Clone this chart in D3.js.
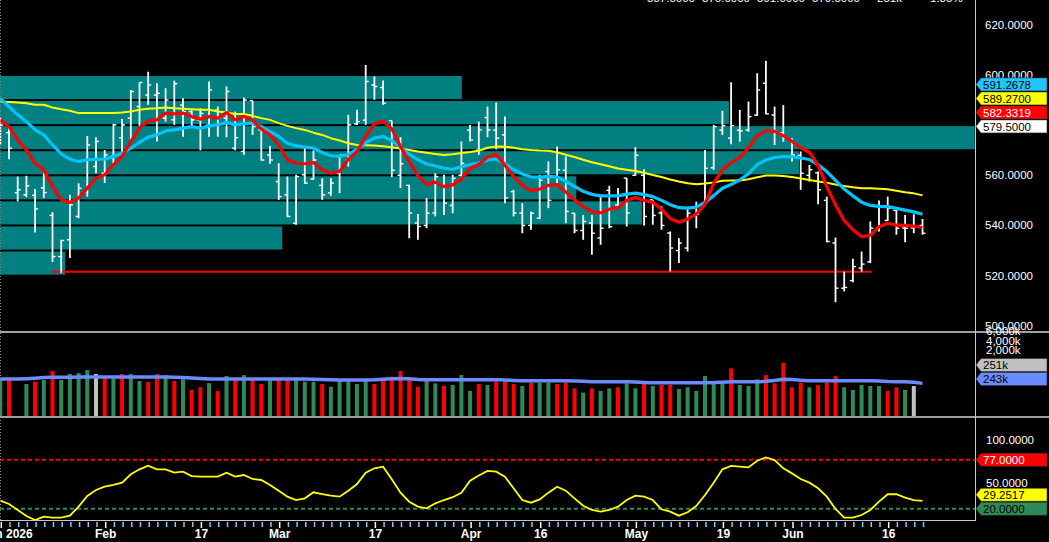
<!DOCTYPE html>
<html><head><meta charset="utf-8">
<script src="https://cdn.jsdelivr.net/npm/d3@7/dist/d3.min.js"></script>
<style>
html,body{margin:0;padding:0;background:#000;overflow:hidden;}
svg{display:block;}
text{font-family:"Liberation Sans",Arial,sans-serif;}
</style></head><body>
<svg id="c" width="1049" height="542"></svg>
<script>
// ---------- DATA ----------
const highs = [583,579.4,559.5,559.8,554.5,560.8,545.3,534.3,552.2,556.8,
575.7,575.2,570.1,580.5,582.4,594.0,597.0,601.3,596.7,594.7,
597.7,590.7,586.1,586.7,597.4,587.4,595.4,585.4,591.0,589.8,
580.1,571.7,564.8,559.5,560.2,571.7,569.9,558.8,558.8,568.1,
584.1,586.1,604.0,599.4,597.8,581.8,575.2,556.2,544.6,550.9,
560.8,560.2,560.2,573.5,580.1,581.4,587.4,589.0,583.4,554.2,
548.9,545.6,560.2,565.5,571.5,567.5,544.9,544.2,544.2,551.6,
555.8,554.9,558.9,571.2,562.4,550.2,547.6,537.6,534.9,547.0,
549.5,570.1,580.1,585.7,597.1,586.1,589.4,600.7,605.6,587.4,
588.0,574.8,569.5,564.1,561.5,551.5,535.2,521.6,526.7,529.6,
541.6,550.0,551.5,546.2,544.2,544.5,542.6];
const lows = [572,566.4,549.6,551.3,537.2,550.9,525.4,521.0,527.0,542.9,
551.5,560.8,556.9,563.5,567.5,573.5,579.7,588.1,573.5,581.4,
580.1,575.4,579.4,569.9,575.4,575.4,575.2,569.9,568.2,576.1,
565.9,564.6,550.2,543.3,540.3,556.6,558.2,550.2,551.8,552.9,
563.5,580.1,580.1,590.1,588.1,559.3,554.9,534.9,534.3,538.9,
543.6,544.2,544.9,559.5,573.5,568.2,575.2,570.4,548.9,543.6,
536.9,538.3,542.5,546.9,555.5,540.9,536.9,534.3,528.3,532.3,
538.9,547.6,539.6,559.8,540.0,540.3,538.3,521.7,525.0,529.6,
538.9,548.9,562.2,576.1,572.4,573.4,577.4,583.7,584.3,572.1,
573.4,565.5,554.2,557.5,548.5,533.3,509.4,513.7,517.4,521.6,
525.0,537.6,541.8,536.3,533.3,536.9,536.3];
const opens = [575,577,553.1,552.2,552,555,544,527.6,534.3,543.6,
553.5,563.5,560.8,567.5,575,582.8,587.4,592,592,582.8,
582.1,588,585.4,582,580,586,582.8,570.8,569.5,589.8,
578.1,568.1,557.5,552.2,540.9,560.2,558.5,556,553,560.8,
566,580.5,582,596,595,581.8,560,556,541,540,
545,556,548,560,578,570,583,578,576.1,553.5,
544.9,540,542.9,561.5,556,562,544.9,538,541,535,
554,548.2,558.9,560,560,550.2,545,537,530,531,
544,549,563,578,574.8,578,578,584,596.7,584,
577,574,568,560,561,550,533,515,518,523,
525.5,539,542,546,539,539,540];
const closes = [580,570.8,554.2,555.8,546.6,553.1,527.6,534,548.2,554.8,
572.1,573.5,568.1,580.1,580.1,593.4,597,596,592.7,590,
596.5,585.4,582.1,584.7,594.0,582.8,593.4,575,590,579.4,
566.1,566.1,551.5,543.6,559.5,556.9,566.1,552.2,556.9,568.1,
580.1,581.4,597.4,595.4,588.7,562,564.6,544.9,539.6,544.9,
559.5,548.9,558.8,564.8,574.1,578.1,578.1,574.8,551,545,
540,544.9,558,550,562.2,545.6,538,541.6,536.9,538.9,
539.5,552,545,568,543.6,544,540,531,533,544.9,
544.5,562.8,579.4,579.8,579.8,577.7,583.4,594,584.5,577.5,
575,568.1,560.8,562.2,554.2,533.6,515,515.3,523.6,524.6,
538.9,539.6,546.9,538.9,538.9,539.6,536.9];

const maFast = [582.1,579.4,574.1,570.1,564.8,562.2,555.5,550.2,549.2,550.9,
554.9,558.9,560.2,564.2,567.5,573.5,578.8,581.7,582.1,584.8,
584.5,584.8,583.4,582.4,583.4,582.8,585.0,582.1,583.4,582.1,
578.4,576.1,572.1,566.2,564.8,564.6,565.1,562.2,560.8,561.5,
566.4,569.5,575.5,580.5,581.6,578.5,571.5,565.5,559.8,556.5,
557.3,555.5,556.2,558.5,562.8,564.3,567.3,568.3,564.0,559.5,
556.0,553.9,554.5,556.0,556.3,553.3,550.3,547.5,545.5,545.0,
546.5,547.0,550.0,551.2,550.0,549.3,546.5,542.8,541.3,542.5,
544.5,548.5,556.8,562.2,565.0,567.2,571.0,575.7,577.8,577.5,
575.8,573.5,571.0,569.2,564.0,555.5,548.2,542.0,538.3,535.6,
536.0,539.5,540.9,540.1,540.0,539.7,539.2];
const maMid = [590.7,587.4,584.1,581.4,578.1,576.1,572.1,568.5,566.4,565.5,
566.2,566.4,566.4,567.5,568.8,570.8,573.1,575.2,576.1,577.7,
578.1,578.8,579.4,578.8,579.7,580.1,581.0,580.1,580.5,580.8,
579.4,577.4,575.5,572.8,571.7,571.2,570.8,569.1,567.8,567.5,
568.3,570.3,573.0,574.8,575.5,573.8,571.2,568.4,566.2,564.5,
563.7,562.8,562.4,563.4,564.3,564.9,566.1,566.5,564.7,562.2,
560.5,559.4,559.3,559.6,559.3,557.6,555.6,553.6,552.4,551.8,
551.8,551.8,552.5,552.9,552.3,551.5,550.0,548.3,547.1,546.9,
547.3,549.2,551.9,554.8,556.3,558.2,560.6,564.3,566.1,567.1,
567.5,567.4,566.9,566.3,564.2,561.5,558.0,554.5,551.8,549.3,
548.0,547.6,547.5,546.8,546.1,545.4,544.5];
const maSlow = [589.4,589.2,589.0,588.7,588.1,588.1,587.0,586.3,585.7,584.8,
584.8,584.8,584.8,584.8,585.0,585.4,586.1,586.5,586.7,587.0,
586.7,586.5,586.3,586.1,586.1,585.4,585.0,584.4,584.4,583.7,
582.8,582.1,580.8,579.7,578.8,578.1,577.0,576.1,574.8,573.9,
572.8,572.1,572.0,571.9,571.6,571.2,570.7,570.1,569.5,569.0,
568.5,568.1,568.4,568.9,569.3,569.8,571.0,571.5,571.4,571.0,
570.4,570.1,569.9,569.8,569.2,568.2,567.3,566.2,565.2,564.4,
563.6,562.7,562.2,561.7,561.0,560.1,559.3,558.3,557.5,556.8,
556.4,556.7,557.1,557.8,557.9,557.9,558.4,559.2,559.9,559.9,
559.7,559.3,558.7,558.1,557.5,557.0,556.3,555.7,555.2,554.8,
554.8,554.6,554.4,553.8,553.2,552.8,552.0];

// volume in thousands, colour code: g up, r down, s unchanged
const volumes = [247,254,0,211,226,237,294,237,275,281,
300,275,247,247,275,275,230,224,275,268,
230,241,173,190,217,166,262,241,268,237,
211,237,237,237,237,226,226,211,194,230,
237,211,237,211,237,258,294,237,194,237,
215,199,205,268,167,211,205,226,226,211,
198,220,220,220,211,220,183,156,183,167,
183,190,215,183,215,198,205,205,179,190,
167,262,215,215,311,205,198,241,268,215,
347,190,220,190,205,220,262,190,173,205,
198,198,167,190,173,198,4];
const volColors = [
"g","r","g","g","r","g","r","g","g","g",
"g","s","r","g","r","g","g","r","r","g",
"r","g","r","r","g","r","g","r","g","r",
"r","g","r","r","g","g","g","r","g","g",
"g","g","g","r","r","r","r","r","r","g",
"g","r","g","g","g","r","g","r","r","r",
"g","r","g","g","r","r","r","g","r","g",
"g","r","g","g","r","g","r","r","g","g",
"g","g","g","g","r","g","g","g","r","r",
"r","r","r","g","r","r","r","g","g","g",
"g","g","r","r","g","s","r"];
const volMA = [243,243,243,245,248,252,254,254,254,255,
255,255,255,256,256,256,256,256,255,255,
254,253,250,246,243,243,243,243,243,243,
243,243,243,243,243,243,242,240,238,237,
237,237,237,238,241,245,246,244,240,239,
239,239,239,239,239,239,239,239,237,234,
232,232,232,232,232,232,231,228,226,226,
226,226,226,224,221,219,219,219,219,219,
219,219,220,223,226,226,226,226,228,234,
241,240,235,232,232,232,232,232,232,232,
232,230,227,226,225,222,215];

const oscValues = [29.4,25.6,18.6,11.6,7.0,10.9,9.7,9.7,12.0,22.5,
34.9,41.9,45.7,47.7,50.4,60.1,65.9,70.2,65.9,65.9,
62.0,63.2,58.1,57.4,57.4,57.4,62.0,57.4,59.3,54.7,
53.5,47.7,41.1,34.1,30.2,32.2,39.2,37.2,35.3,34.1,
41.1,48.8,62.0,67.1,69.0,54.3,38.8,28.3,22.5,20.5,
26.4,30.2,33.5,38.5,52.7,58.7,64.0,63.2,57.4,43.8,
30.2,27.1,31.0,38.8,45.7,41.1,32.2,23.6,18.6,16.7,
18.6,22.5,30.2,35.3,34.1,30.2,19.4,16.7,12.0,15.9,
23.3,36.0,50.4,65.9,69.8,69.0,68.2,75.9,79.8,76.7,
67.1,61.2,54.7,50.4,43.8,34.1,19.8,9.7,9.7,12.8,
18.6,28.3,36.9,36.9,32.9,30.2,29.3];
const oscUpper = 77, oscLower = 20;

// supply/demand zones: lower bound, upper bound, last bar index covered
const zoneLow  = [590,580,570,560,550,540,530,520];
const zoneHigh = [600,590,580,570,560,550,540,530];
const zoneEnd  = [53.05,83.75,112,91.8,66.2,73.75,32.4,7.45];
const supportLevel = 521.5, supportFrom = 5.85, supportTo = 100.15;

const priceTicks = [620,600,580,560,540,520,500];
const volTickVals = [6000,4000,2000];
const volTickLabels = ["6,000k","4,000k","2,000k"];
const oscTicks = [100,50];

const dateTickIdx = [0,12,23,32,43,54,62,73,83,91,102];
const dateTickLbl = ["Jan 2026","Feb","17","Mar","17","Apr","16","May","19","Jun","16"];

const priceTagVals = [591.2678,589.2700,582.3319,579.5000];
const priceTagLbl = ["591.2678","589.2700","582.3319","579.5000"];
const volTagVals = [251,243];
const volTagLbl = ["251k","243k"];
const oscTagVals = [77,29.2517,20];
const oscTagLbl = ["77.0000","29.2517","20.0000"];

const headerLbl = ["587.5000","576.0000","591.0000","579.5000","251k","1.35%"];

// ---------- DRAW ----------
const N = closes.length;
const svg = d3.select("#c");
const W = 1049, PR = 975;
const x = d3.scaleLinear().domain([0,112]).range([0.3, 0.3+8.7*112]);
const yP = d3.scaleLinear().domain([500,620]).range([325.8,24.8]);
const yV = d3.scaleLinear().domain([0,243]).range([417,379]);
const yO = d3.scaleLinear().domain([0,100]).range([526,440]);
const volLblY = d3.scaleLinear().domain([2000,6000]).range([354,335]);

const defs = svg.append("defs");
[["cp",0,0,PR,331],["cv",0,333,PR,83],["co",0,418,PR,103]].forEach(([id,a,b,w,h])=>{
  defs.append("clipPath").attr("id",id).append("rect").attr("x",a).attr("y",b).attr("width",w).attr("height",h);
});
svg.append("rect").attr("width",W).attr("height",542).attr("fill","#000");

// price pane
const gp = svg.append("g").attr("clip-path","url(#cp)");
gp.selectAll("rect.zone").data(zoneLow).join("rect")
  .attr("x",0).attr("y",(d,i)=>yP(zoneHigh[i])+1)
  .attr("width",(d,i)=>Math.min(x(zoneEnd[i]),PR))
  .attr("height",(d,i)=>yP(d)-yP(zoneHigh[i])-2)
  .attr("fill","#008080");
gp.append("line").attr("x1",x(supportFrom)).attr("x2",x(supportTo))
  .attr("y1",yP(supportLevel)).attr("y2",yP(supportLevel))
  .attr("stroke","#ff0000").attr("stroke-width",2);

const idx = d3.range(N);
const bars = gp.append("g").attr("stroke","#fff");
bars.selectAll("line.hl").data(idx).join("line")
  .attr("x1",i=>x(i)).attr("x2",i=>x(i))
  .attr("y1",i=>yP(highs[i])).attr("y2",i=>yP(lows[i])).attr("stroke-width",1.8);
bars.selectAll("line.o").data(idx).join("line")
  .attr("x1",i=>x(i)-3).attr("x2",i=>x(i))
  .attr("y1",i=>yP(opens[i])).attr("y2",i=>yP(opens[i])).attr("stroke-width",1.4);
bars.selectAll("line.c").data(idx).join("line")
  .attr("x1",i=>x(i)).attr("x2",i=>x(i)+3)
  .attr("y1",i=>yP(closes[i])).attr("y2",i=>yP(closes[i])).attr("stroke-width",1.4);

const lineP = d3.line().x((d,i)=>x(i)).y(d=>yP(d));
[[maSlow,"#ffff00",2],[maMid,"#00c4ff",3.2],[maFast,"#ff0000",3.2]].forEach(([arr,c,w])=>{
  gp.append("path").datum(arr).attr("d",lineP).attr("fill","none")
    .attr("stroke",c).attr("stroke-width",w).attr("stroke-linejoin","round");
});

// volume pane
const gv = svg.append("g").attr("clip-path","url(#cv)");
const vcol = {g:"#2e8b57", r:"#ff0000", s:"#c0c0c0"};
gv.selectAll("rect").data(idx).join("rect")
  .attr("x",i=>x(i)-2).attr("width",4)
  .attr("y",i=>yV(volumes[i])).attr("height",i=>yV(0)-yV(volumes[i]))
  .attr("fill",i=>vcol[volColors[i]]);
gv.append("path").datum(volMA)
  .attr("d",d3.line().x((d,i)=>x(i)).y(d=>yV(d)))
  .attr("fill","none").attr("stroke","#6a8cff").attr("stroke-width",3.5);

// oscillator pane
const go = svg.append("g").attr("clip-path","url(#co)");
go.append("line").attr("x1",0).attr("x2",PR).attr("y1",yO(oscUpper)).attr("y2",yO(oscUpper))
  .attr("stroke","#ff0000").attr("stroke-width",2).attr("stroke-dasharray","4,3");
go.append("line").attr("x1",0).attr("x2",PR).attr("y1",yO(oscLower)).attr("y2",yO(oscLower))
  .attr("stroke","#2e8b57").attr("stroke-width",2).attr("stroke-dasharray","4,3");
go.append("path").datum(oscValues)
  .attr("d",d3.line().x((d,i)=>x(i)).y(d=>yO(d)))
  .attr("fill","none").attr("stroke","#ffff00").attr("stroke-width",1.8);

// frames
svg.append("line").attr("x1",0).attr("x2",W).attr("y1",332).attr("y2",332).attr("stroke","#a0a0a0").attr("stroke-width",2);
svg.append("line").attr("x1",0).attr("x2",W).attr("y1",417).attr("y2",417).attr("stroke","#a0a0a0").attr("stroke-width",2);
svg.append("line").attr("x1",PR+0.5).attr("x2",PR+0.5).attr("y1",0).attr("y2",521).attr("stroke","#c8c8c8").attr("stroke-width",1);
svg.append("line").attr("x1",0).attr("x2",PR+1).attr("y1",520.5).attr("y2",520.5).attr("stroke","#c8c8c8").attr("stroke-width",1);
svg.append("line").attr("x1",0.5).attr("x2",0.5).attr("y1",0).attr("y2",520).attr("stroke","#808080").attr("stroke-dasharray","1,2");

// x axis ticks + labels
const major = new Set(dateTickIdx);
svg.append("g").selectAll("line").data(idx).join("line")
  .attr("x1",i=>x(i)+1).attr("x2",i=>x(i)+1).attr("y1",522).attr("y2",i=>major.has(i)?528:527)
  .attr("stroke",i=>major.has(i)?"#ffffff":"#87cefa").attr("stroke-width",1.5);
svg.append("g").selectAll("text").data(dateTickIdx).join("text")
  .attr("x",(i,k)=>x(i)+1+(k===0?6:0)).attr("y",538).attr("text-anchor","middle")
  .attr("fill","#fff").attr("font-size","12px").attr("font-weight","bold")
  .text((d,k)=>dateTickLbl[k]);

// right axis labels
const ax = svg.append("g").attr("fill","#fff").attr("font-size","11.5px");
ax.selectAll("text.p").data(priceTicks).join("text").attr("x",985).attr("y",d=>yP(d)+4).text(d=>d.toFixed(4));
ax.selectAll("text.v").data(volTickVals).join("text").attr("x",986).attr("y",d=>volLblY(d)).text((d,k)=>volTickLabels[k]);
ax.selectAll("text.o").data(oscTicks).join("text").attr("x",986).attr("y",d=>yO(d)+4).text(d=>d.toFixed(4));

// header (cut at top)
svg.append("g").selectAll("text").data(headerLbl).join("text")
  .attr("x",(d,k)=>[647,702,757,812,877,930][k]).attr("y",2)
  .attr("fill","#fff").attr("font-size","11.5px").text(d=>d);

// value tags
function tags(vals, lbls, scale, fills, txt){
  const items = vals.map((v,k)=>({v, y:scale(v), lbl:lbls[k], fill:fills[k], tc:txt[k]}));
  items.sort((a,b)=>b.y-a.y);
  let prev = Infinity;
  items.forEach(it=>{ it.ty = Math.min(it.y, prev-14); prev = it.ty; });
  const g = svg.append("g");
  items.forEach(it=>{
    const y=it.ty;
    g.append("path").attr("d",`M976,${y} L981,${y-6.5} L1047,${y-6.5} L1047,${y+6.5} L981,${y+6.5} Z`)
      .attr("fill",it.fill).attr("stroke","#333").attr("stroke-width",0.6);
    g.append("text").attr("x",983).attr("y",y+4.2).attr("fill",it.tc).attr("font-size","11.5px").text(it.lbl);
  });
}
tags(priceTagVals, priceTagLbl, yP, ["#1ec8ff","#ffff00","#ff0000","#ffffff"], ["#000","#000","#fff","#000"]);
tags(volTagVals, volTagLbl, yV, ["#c0c0c0","#6a8cff"], ["#000","#000"]);
tags(oscTagVals, oscTagLbl, yO, ["#ff0000","#ffff00","#2e8b57"], ["#fff","#000","#000"]);
</script>
</body></html>
